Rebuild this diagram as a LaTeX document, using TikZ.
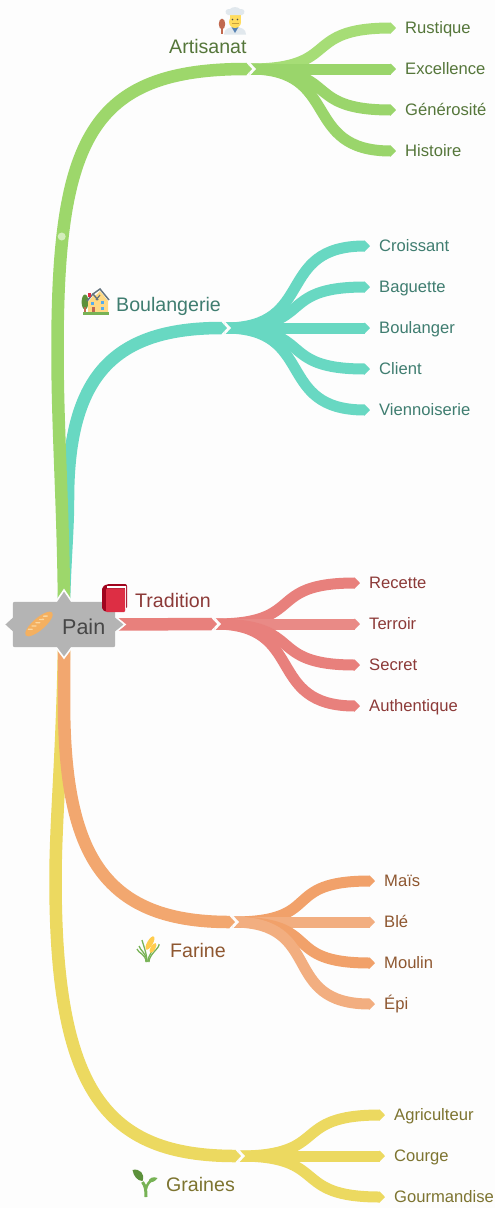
\documentclass[tikz,border=0pt]{standalone}
\usepackage{fontspec}
\setmainfont{Liberation Sans}
\usetikzlibrary{arrows.meta}
\definecolor{bgc}{HTML}{FDFDFD}
\definecolor{gMain}{HTML}{9DD76B}\definecolor{gA}{HTML}{A6DD76}\definecolor{gB}{HTML}{9AD56B}\definecolor{gTxt}{HTML}{55763A}
\definecolor{tMain}{HTML}{68D8C2}\definecolor{tTxt}{HTML}{3F7D70}
\definecolor{rMain}{HTML}{E8807C}\definecolor{rB}{HTML}{E98A86}\definecolor{rTxt}{HTML}{8C3A38}
\definecolor{oMain}{HTML}{F2A76F}\definecolor{oA}{HTML}{F1A16A}\definecolor{oB}{HTML}{F2AE80}\definecolor{oTxt}{HTML}{8E5730}
\definecolor{yMain}{HTML}{ECD960}\definecolor{yTxt}{HTML}{7D7430}
\definecolor{hubc}{HTML}{B4B4B4}
\definecolor{emGreen}{RGB}{119,178,85}\definecolor{emDark}{RGB}{92,145,59}
\definecolor{emGold}{RGB}{255,204,77}\definecolor{emSkin}{RGB}{255,220,93}
\definecolor{emWhite}{RGB}{225,232,237}\definecolor{emBrown}{RGB}{193,105,79}
\definecolor{emBlue}{RGB}{85,172,238}\definecolor{emRed}{RGB}{221,46,68}\definecolor{emDeep}{RGB}{160,4,30}
\definecolor{emSlate}{RGB}{102,117,127}\definecolor{emCream}{RGB}{255,217,131}
\tikzset{
  x=1pt,y=-1pt,
  mainbranch/.style={line width=12.5pt,line cap=butt,-{Triangle[length=6pt,width=12.5pt]}},
  subbranch/.style={line width=11pt,line cap=butt,-{Triangle[length=5.5pt,width=11pt]}},
  leaf/.style={inner sep=0pt,anchor=west,text height=14pt,text depth=3pt,font=\fontsize{16.6}{20}\selectfont},
  topic/.style={inner sep=0pt,anchor=west,text height=17pt,text depth=4pt,font=\fontsize{19.6}{24}\selectfont},
  notch/.style={fill=bgc,draw=none},
  icon/.style={draw=none}
}
\newcommand{\notchat}[1]{\fill[notch] ([xshift=-2.5pt,yshift=-7pt]#1) -- ([xshift=4pt]#1) -- ([xshift=-2.5pt,yshift=7pt]#1) -- cycle;}
\newcommand{\fork}[3]{\draw[subbranch,#3] ([xshift=-2pt]#1) .. controls +(92,0) and ([xshift=-105pt]#2.west) .. ([xshift=-9pt]#2.west);}
\begin{document}
\begin{tikzpicture}
\useasboundingbox (0,0) rectangle (495,1208);
\fill[bgc] (0,0) rectangle (495,1208);
% hub and junctions
\node[minimum width=102pt,minimum height=45pt,inner sep=0pt] (pain) at (64,624.5) {};
\coordinate (jA) at (252,69);
\coordinate (jB) at (227,328);
\coordinate (jT) at (217,624);
\coordinate (jF) at (235,922);
\coordinate (jG) at (241,1156);
% leaves
\node[leaf,text=gTxt] (a1) at (405,28) {Rustique};
\node[leaf,text=gTxt] (a2) at (405,69) {Excellence};
\node[leaf,text=gTxt] (a3) at (405,110) {Générosité};
\node[leaf,text=gTxt] (a4) at (405,151) {Histoire};
\node[leaf,text=tTxt] (b1) at (379,246) {Croissant};
\node[leaf,text=tTxt] (b2) at (379,287) {Baguette};
\node[leaf,text=tTxt] (b3) at (379,328) {Boulanger};
\node[leaf,text=tTxt] (b4) at (379,369) {Client};
\node[leaf,text=tTxt] (b5) at (379,410) {Viennoiserie};
\node[leaf,text=rTxt] (t1) at (369,583) {Recette};
\node[leaf,text=rTxt] (t2) at (369,624) {Terroir};
\node[leaf,text=rTxt] (t3) at (369,665) {Secret};
\node[leaf,text=rTxt] (t4) at (369,706) {Authentique};
\node[leaf,text=oTxt] (f1) at (384,881) {Maïs};
\node[leaf,text=oTxt] (f2) at (384,922) {Blé};
\node[leaf,text=oTxt] (f3) at (384,963) {Moulin};
\node[leaf,text=oTxt] (f4) at (384,1004) {Épi};
\node[leaf,text=yTxt] (g1) at (394,1115) {Agriculteur};
\node[leaf,text=yTxt] (g2) at (394,1156) {Courge};
\node[leaf,text=yTxt] (g3) at (394,1197) {Gourmandise};
% topics
\node[topic,text=gTxt] (artisanat) at (169,46.5) {Artisanat};
\node[topic,text=tTxt] (boulangerie) at (116,304.5) {Boulangerie};
\node[topic,text=rTxt] (tradition) at (135,600.5) {Tradition};
\node[topic,text=oTxt] (farine) at (170,950.5) {Farine};
\node[topic,text=yTxt] (graines) at (166,1185) {Graines};
% sub branches
\fork{jA}{a1}{gA}\fork{jA}{a2}{gB}\fork{jA}{a3}{gB}\fork{jA}{a4}{gB}
\notchat{jA}
\fork{jB}{b1}{tMain}\fork{jB}{b2}{tMain}\fork{jB}{b3}{tMain}\fork{jB}{b4}{tMain}\fork{jB}{b5}{tMain}
\notchat{jB}
\fork{jT}{t1}{rMain}\fork{jT}{t2}{rB}\fork{jT}{t3}{rMain}\fork{jT}{t4}{rMain}
\notchat{jT}
\fork{jF}{f1}{oA}\fork{jF}{f2}{oB}\fork{jF}{f3}{oA}\fork{jF}{f4}{oB}
\notchat{jF}
\fork{jG}{g1}{yMain}\fork{jG}{g2}{yMain}\fork{jG}{g3}{yMain}
\notchat{jG}
% main branches
\draw[mainbranch,tMain] (pain.north) .. controls (65,560) and (68,530) .. (68,500) .. controls (68,380) and (110,328) .. (jB);
\draw[mainbranch,gMain] (pain.north) .. controls (63,500) and (57.5,430) .. (57.5,350) .. controls (57.5,140) and (90,69) .. (jA);
\draw[mainbranch,rMain] (pain.east) -- (jT);
\draw[mainbranch,yMain] (pain.south) .. controls (62,760) and (55.5,820) .. (55.5,880) .. controls (55.5,1090) and (105,1156) .. (jG);
\draw[mainbranch,oMain] (pain.south) -- (64,700) .. controls (64,850) and (100,922) .. (jF);
\fill[gMain!45!white] (61.7,236.5) circle (4);
% hub shape
\fill[fill=hubc,draw=bgc,line width=1.6pt,line join=miter]
  ([xshift=-8pt]pain.north) -- (64,590) -- ([xshift=8pt]pain.north) --
  ([xshift=8pt]pain.south) -- (64,658) -- ([xshift=-8pt]pain.south) -- cycle;
\fill[fill=hubc,draw=bgc,line width=1.6pt,line join=miter]
  ([yshift=8pt]pain.west) -- (4,624.5) -- ([yshift=-8pt]pain.west) --
  ([yshift=-8pt]pain.east) -- (125,624.5) -- ([yshift=8pt]pain.east) -- cycle;
\fill[hubc,rounded corners=2pt] (pain.north west) rectangle (pain.south east);
\node[inner sep=0pt,anchor=base west,text=black!72,font=\fontsize{21.5}{26}\selectfont] (paintext) at (62,634) {Pain};
% baguette
\begin{scope}[shift={(39,624)},rotate=41]
  \fill[icon,fill={rgb,255:red,244;green,176;blue,96}] (0,0) ellipse (17.5 and 6);
  \foreach \u in {-10,-5,0,5,10}
    \draw[line width=1.3pt,draw={rgb,255:red,250;green,215;blue,160},line cap=round] (\u-1.5,-3) -- (\u+1.5,-.5);
\end{scope}
% book
\fill[icon,fill=emDeep,rounded corners=2pt] (102,587) -- (107,584) -- (127,584) -- (127,609) -- (107,612) -- (102,610) -- cycle;
\fill[icon,fill=white] (107,586) -- (126,586) -- (126,609) -- (125,609) -- (125,588) -- (107,588) -- cycle;
\fill[icon,fill=emRed,rounded corners=1pt] (106,588.5) rectangle (125,612);
% chef
\begin{scope}[shift={(235,20)}]
  \fill[icon,fill=emWhite] (-11,14.5) .. controls (-11,9) and (-6,7) .. (0,7) .. controls (6,7) and (11,9) .. (11,14.5) -- cycle;
  \fill[icon,fill={rgb,255:red,85;green,130;blue,180}] (-3.5,7) -- (0,13) -- (3.5,7) -- cycle;
  \fill[icon,fill=emSkin] (-5.5,-5) rectangle (5.5,3) ;
  \fill[icon,fill=emSkin] (0,2) ellipse (6 and 6);
  \fill[icon,fill={rgb,255:red,200;green,160;blue,60}] (-3.5,3) rectangle (3.5,4.2);
  \fill[icon,fill=black!70] (-2.5,-.5) circle (.8); \fill[icon,fill=black!70] (2.5,-.5) circle (.8);
  \fill[icon,fill=emWhite] (-7,-5) .. controls (-11,-6) and (-10,-12) .. (-5,-11) .. controls (-3,-13.5) and (3,-13.5) .. (5,-11) .. controls (10,-12) and (11,-6) .. (7,-5) -- cycle;
  \fill[icon,fill=emBrown] (-13,4) ellipse (3.2 and 5.4);
  \draw[line width=1.4pt,draw=emBrown] (-13,5) -- (-13,14);
\end{scope}
% house
\begin{scope}[shift={(96,303)}]
  \fill[icon,fill=emDark] (-11,-1) ellipse (3.4 and 7.5);
  \draw[line width=1.2pt,draw=emBrown] (-11,4) -- (-11,9);
  \fill[icon,fill=emCream] (-8,-1) -- (-2,-8) -- (0,-8) -- (4,-12) -- (12,-2) -- (12,9) -- (-8,9) -- cycle;
  \draw[line width=1.5pt,draw=emSlate] (-9,-2) -- (-3,-9) -- (2,-3);
  \draw[line width=1.5pt,draw=emSlate] (-3,-9) -- (4,-14) -- (13,-3);
  \draw[line width=1.2pt,draw=emSlate] (4,-8) -- (0,-3);
  \fill[icon,fill=emRed] (-8,-10) rectangle (-5.5,-6);
  \fill[icon,fill=emBlue] (-5,-1) rectangle (-2,2);
  \fill[icon,fill=emBlue] (5,-2) rectangle (8,1);
  \fill[icon,fill=emBlue] (5,3.5) rectangle (8,6.5);
  \fill[icon,fill=emBrown] (-4.5,4) rectangle (-1.5,9);
  \fill[icon,fill=emGreen] (-13,9) rectangle (13,12);
\end{scope}
% wheat
\begin{scope}[shift={(148,949)}]
  \foreach \a/\b/\c/\d in {-1/13/-9/-3,-1/13/-6/-9,0/13/5/-2,1/13/11/-5,-2/13/-11/0}
    \draw[line width=1.3pt,draw=emGreen] (\a,\b) .. controls (\a,\b-8) and (\c+1,\d+4) .. (\c,\d);
  \fill[icon,fill=emGold,rotate around={-30:(2,-6)}] (2,-6) ellipse (2.8 and 7.5);
  \fill[icon,fill=emGold,rotate around={-30:(5,-1)}] (5,-1) ellipse (2.4 and 5.5);
\end{scope}
% sprout
\begin{scope}[shift={(145.5,1183)}]
  \draw[line width=3pt,draw=emGreen] (0.5,14) .. controls (0.5,7) and (0,3) .. (-3,-1);
  \draw[line width=2.5pt,draw=emGreen] (0.5,6) .. controls (1,2) and (4,-2) .. (8,-4);
  \fill[icon,fill=emDark] (-13,-13) .. controls (-6,-15) and (0,-9) .. (-3,-2) .. controls (-8,-2) and (-12,-7) .. (-13,-13) -- cycle;
  \fill[icon,fill=emGreen] (12,-5) .. controls (8,-7) and (3,-5) .. (3,-1) .. controls (7,0) and (10,-2) .. (12,-5) -- cycle;
\end{scope}
\end{tikzpicture}
\end{document}
